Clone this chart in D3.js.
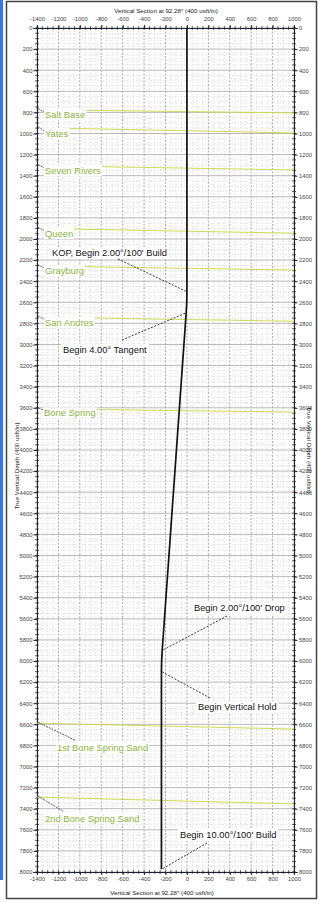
<!DOCTYPE html>
<html>
<head>
<meta charset="utf-8">
<script src="https://cdn.jsdelivr.net/npm/d3@7/dist/d3.min.js"></script>
<style>
body { margin: 0; background: #fff; }
text { font-family: "Liberation Sans", Arial, sans-serif; }
</style>
</head>
<body>
<div id="chart"></div>
<script>
// axis tick labels
var vsTicks = [-1400, -1200, -1000, -800, -600, -400, -200, 0, 200, 400, 600, 800, 1000];
var tvdTicks = [0, 200, 400, 600, 800, 1000, 1200, 1400, 1600, 1800, 2000, 2200, 2400, 2600, 2800,
    3000, 3200, 3400, 3600, 3800, 4000, 4200, 4400, 4600, 4800, 5000, 5200, 5400, 5600, 5800,
    6000, 6200, 6400, 6600, 6800, 7000, 7200, 7400, 7600, 7800, 8000];

// well path (vertical section vs true vertical depth)
var pathTVD = [0, 2500, 2600, 2700, 5900, 6000, 6100, 7975];
var pathVS = [0, 0, -1.7, -7.0, -230.8, -236.1, -237.8, -237.8];

// formation tops, depth at left and right edge of the section
var formationNames = ['Salt Base', 'Yates', 'Seven Rivers', 'Queen', 'Grayburg', 'San Andres',
    'Bone Spring', '1st Bone Spring Sand', '2nd Bone Spring Sand'];
var formationTopLeft = [775, 945, 1305, 1900, 2255, 2740, 3610, 6590, 7290];
var formationTopRight = [805, 995, 1345, 1945, 2295, 2780, 3640, 6645, 7355];

// plan annotations
var markerText = ["KOP, Begin 2.00°/100' Build", "Begin 4.00° Tangent", "Begin 2.00°/100' Drop",
    "Begin Vertical Hold", "Begin 10.00°/100' Build"];
var markerTVD = [2500, 2700, 5900, 6100, 7975];
var markerVS = [0, -7.0, -230.8, -237.8, -237.8];

var svgWidth = 319, svgHeight = 904;
var plot = { left: 37, right: 294, top: 28, bottom: 872 };

var svg = d3.select('#chart').append('svg')
    .attr('width', svgWidth)
    .attr('height', svgHeight);

var x = d3.scaleLinear().domain([-1400, 1000]).range([plot.left, plot.right]);
var y = d3.scaleLinear().domain([0, 8000]).range([plot.top, plot.bottom]);

// page frame + viewer edge
svg.append('rect').attr('x', 0).attr('y', 0).attr('width', 3).attr('height', 880).attr('fill', '#3b78d8');
svg.append('rect')
    .attr('x', 6.5).attr('y', 1.5).attr('width', 310).attr('height', 897)
    .attr('fill', 'none').attr('stroke', '#444').attr('stroke-width', 1.5);

// grid
var grid = svg.append('g').attr('class', 'grid');
var minorVS = d3.range(-1400, 1001, 50);
var minorTVD = d3.range(0, 8001, 50);

grid.selectAll('.vminor').data(minorVS.filter(d => d % 200 !== 0)).enter().append('line')
    .attr('x1', d => x(d)).attr('x2', d => x(d))
    .attr('y1', plot.top).attr('y2', plot.bottom)
    .attr('stroke', '#c4c4c4').attr('stroke-width', 0.6).attr('stroke-dasharray', '1,2');
grid.selectAll('.hminor').data(minorTVD.filter(d => d % 200 !== 0)).enter().append('line')
    .attr('x1', plot.left).attr('x2', plot.right)
    .attr('y1', d => y(d)).attr('y2', d => y(d))
    .attr('stroke', '#c4c4c4').attr('stroke-width', 0.6).attr('stroke-dasharray', '1,2');
grid.selectAll('.vmajor').data(vsTicks).enter().append('line')
    .attr('x1', d => x(d)).attr('x2', d => x(d))
    .attr('y1', plot.top).attr('y2', plot.bottom)
    .attr('stroke', '#8a8a8a').attr('stroke-width', 0.7).attr('stroke-dasharray', '2,1.5');
grid.selectAll('.hmajor').data(tvdTicks).enter().append('line')
    .attr('x1', plot.left).attr('x2', plot.right)
    .attr('y1', d => y(d)).attr('y2', d => y(d))
    .attr('stroke', '#a8a8a8').attr('stroke-width', 0.8);

// axes
var fmt = d => String(d);
function styleAxis(g) {
    g.select('.domain').attr('stroke', '#1c1f3a').attr('stroke-width', 1.1);
    g.selectAll('.tick line').attr('stroke', '#222');
    g.selectAll('text').attr('fill', '#444').style('font-size', '5.8px')
        .style('font-family', '"Liberation Sans", Arial, sans-serif');
}

svg.append('g').attr('transform', 'translate(0,' + plot.top + ')')
    .call(d3.axisTop(x).tickValues(vsTicks).tickFormat(fmt).tickSizeOuter(0).tickSize(3).tickPadding(4))
    .call(styleAxis);
svg.append('g').attr('transform', 'translate(0,' + plot.bottom + ')')
    .call(d3.axisBottom(x).tickValues(vsTicks).tickFormat(fmt).tickSizeOuter(0).tickSize(3).tickPadding(1.5))
    .call(styleAxis);
svg.append('g').attr('transform', 'translate(' + plot.left + ',0)')
    .call(d3.axisLeft(y).tickValues(tvdTicks).tickFormat(fmt).tickSizeOuter(0).tickSize(3.5).tickPadding(1))
    .call(styleAxis);
svg.append('g').attr('transform', 'translate(' + plot.right + ',0)')
    .call(d3.axisRight(y).tickValues(tvdTicks).tickFormat(fmt).tickSizeOuter(0).tickSize(3.5).tickPadding(1.5))
    .call(styleAxis);

// minor ticks (crossing the axis lines)
var minorTicks = svg.append('g').attr('stroke', '#222').attr('stroke-width', 0.7);
[plot.top, plot.bottom].forEach(function (yy) {
    minorTicks.selectAll(null).data(minorVS).enter().append('line')
        .attr('x1', d => x(d)).attr('x2', d => x(d))
        .attr('y1', yy - 2).attr('y2', yy + 2);
});
[plot.left, plot.right].forEach(function (xx) {
    minorTicks.selectAll(null).data(minorTVD).enter().append('line')
        .attr('x1', xx - 2).attr('x2', xx + 2)
        .attr('y1', d => y(d)).attr('y2', d => y(d));
});

// axis titles
var titleFont = '6.2px';
svg.append('text').attr('x', 166).attr('y', 10).attr('text-anchor', 'middle')
    .attr('dominant-baseline', 'central').style('font-size', titleFont).attr('fill', '#222')
    .text('Vertical Section at 92.28° (400 usft/in)');
svg.append('text').attr('x', 162).attr('y', 892).attr('text-anchor', 'middle')
    .attr('dominant-baseline', 'central').style('font-size', titleFont).attr('fill', '#222')
    .text('Vertical Section at 92.28° (400 usft/in)');
svg.append('text').attr('transform', 'translate(16,466) rotate(-90)').attr('text-anchor', 'middle')
    .attr('dominant-baseline', 'central').style('font-size', titleFont).attr('fill', '#222')
    .text('True Vertical Depth (400 usft/in)');
svg.append('text').attr('transform', 'translate(309,450) rotate(90)').attr('text-anchor', 'middle')
    .attr('dominant-baseline', 'central').style('font-size', titleFont).attr('fill', '#222')
    .text('True Vertical Depth (400 usft/in)');

// formations
var formLabelPos = {   // label left x, label centre offset below line (px)
    'Salt Base': [45, 5], 'Yates': [45, 6], 'Seven Rivers': [45, 5], 'Queen': [45, 5],
    'Grayburg': [45, 5], 'San Andres': [45, 5], 'Bone Spring': [44, 4],
    '1st Bone Spring Sand': [57, 24], '2nd Bone Spring Sand': [45, 21]
};
var formG = svg.append('g');
var slope = d3.scaleLinear().domain([plot.left, plot.right]).range([0, 1]);

formationNames.forEach(function (name, i) {
    var yl = y(formationTopLeft[i]), yr = y(formationTopRight[i]);
    var pos = formLabelPos[name];
    var ly = yl + pos[1];
    var lbl = formG.append('text').attr('x', pos[0]).attr('y', ly)
        .attr('dominant-baseline', 'central').style('font-size', '9.4px')
        .attr('fill', '#8ab43c').text(name);
    var bb = lbl.node().getBBox();
    formG.insert('rect', 'text').attr('x', bb.x - 1).attr('y', bb.y).attr('width', bb.width + 2)
        .attr('height', bb.height).attr('fill', '#fff');
    var x0 = pos[1] > 10 ? plot.left : bb.x + bb.width + 1;
    formG.append('line')
        .attr('x1', x0).attr('x2', plot.right)
        .attr('y1', yl + (yr - yl) * slope(x0)).attr('y2', yr)
        .attr('stroke', '#cddc52').attr('stroke-width', 1);
    // leader from the section edge to the label
    formG.append('line')
        .attr('x1', plot.left + 1).attr('y1', yl - 1)
        .attr('x2', pos[1] > 10 ? pos[0] + 18 : pos[0] - 1)
        .attr('y2', pos[1] > 10 ? ly - 7 : ly - 3)
        .attr('stroke', '#333').attr('stroke-width', 0.8).attr('stroke-dasharray', '2,1');
});

// well path
var line = d3.line().x((d, i) => x(pathVS[i])).y(d => y(d));
svg.append('path').datum(pathTVD)
    .attr('d', line).attr('fill', 'none')
    .attr('stroke', '#111').attr('stroke-width', 1.7);

// annotations
var markerLayout = [   // text left x, text centre y, leader start x, leader start y
    [52, 253, 118, 259],
    [63, 350, 122, 340],
    [194, 608, 227, 616],
    [198, 707, 210, 698],
    [180, 835, 207, 843]
];
var annG = svg.append('g');
markerText.forEach(function (t, i) {
    var L = markerLayout[i];
    var txt = annG.append('text').attr('x', L[0]).attr('y', L[1])
        .attr('dominant-baseline', 'central').style('font-size', '9.3px')
        .attr('fill', '#111').text(t);
    var bb = txt.node().getBBox();
    annG.insert('rect', 'text').attr('x', bb.x - 2).attr('y', bb.y - 1)
        .attr('width', bb.width + 4).attr('height', bb.height + 2).attr('fill', '#fff');
    annG.append('line')
        .attr('x1', L[2]).attr('y1', L[3])
        .attr('x2', x(markerVS[i])).attr('y2', y(markerTVD[i]))
        .attr('stroke', '#222').attr('stroke-width', 0.9).attr('stroke-dasharray', '2,1.5');
});
</script>
</body>
</html>
